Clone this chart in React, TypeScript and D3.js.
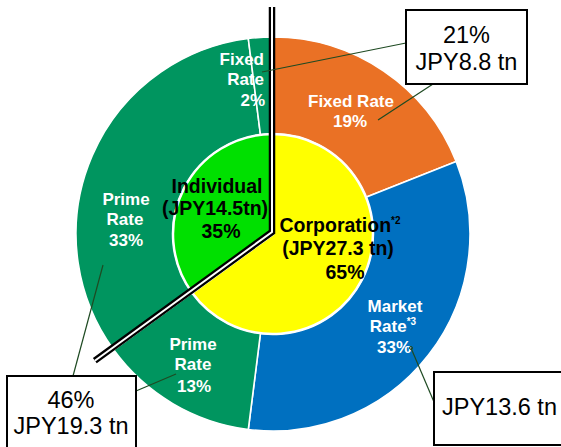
import React from 'react';
import * as d3 from 'd3';

// inner ring: borrower type
const innerNames = ['Corporation', 'Individual'];
const innerAmounts = ['(JPY27.3 tn)', '(JPY14.5tn)'];
const innerShares = [65, 35];

// outer ring: rate type, corporation slices first then individual
const outerNames = ['Fixed Rate', 'Market Rate', 'Prime Rate', 'Prime Rate', 'Fixed Rate'];
const outerShares = [19, 33, 13, 33, 2];

// callout boxes
const calloutLines = [['21%', 'JPY8.8 tn'], ['JPY13.6 tn'], ['46%', 'JPY19.3 tn']];

const W = 561;
const H = 447;
const cx = 273;
const cy = 234;
const rInner = 100;
const rOuter = 197;

const innerColors = ['#FFFF00', '#00E000'];
const outerColors = ['#EA7125', '#0070C0', '#00955F', '#00955F', '#00955F'];
const lineColor = '#1E4A22';
const font = '"Liberation Sans", Arial, sans-serif';

const App = () => {
  const pie = d3.pie<number>().sort(null).value(d => d);
  const innerArcs = pie(innerShares);
  const outerArcs = pie(outerShares);

  const innerArc = d3.arc<d3.PieArcDatum<number>>().innerRadius(0).outerRadius(rInner);
  const outerArc = d3.arc<d3.PieArcDatum<number>>().innerRadius(rInner).outerRadius(rOuter);

  // double divider follows the corporation / individual boundary
  const cut = innerArcs[0].endAngle;
  const cutLen = 219;
  const lx = cx - 1;
  const divider = d3.line()([
    [lx, 7],
    [lx, cy - 2],
    [lx + cutLen * Math.sin(cut), cy - 2 - cutLen * Math.cos(cut)],
  ]);

  const white = { fill: '#fff', fontWeight: 700, fontSize: 17, fontFamily: font };
  const black = { fill: '#000', fontWeight: 700, fontSize: 19.5, fontFamily: font };
  const boxText = { fill: '#000', fontSize: 23.5, fontFamily: font };

  return (
    <svg width={W} height={H} style={{ position: 'absolute', left: 0, top: 0 }}>
      <rect width={W} height={H} fill="#fff" />
      <g transform={`translate(${cx},${cy})`}>
        {outerArcs.map((a, i) => (
          <path key={'o' + i} d={outerArc(a) || ''} fill={outerColors[i]} stroke="#fff" strokeWidth={1.6} />
        ))}
        {innerArcs.map((a, i) => (
          <path key={'i' + i} d={innerArc(a) || ''} fill={innerColors[i]} stroke="#fff" strokeWidth={2.5} />
        ))}
      </g>

      {/* outer slice labels */}
      <text {...white} textAnchor="middle">
        <tspan x={351} y={107}>{outerNames[0]}</tspan>
        <tspan x={350} y={127}>{outerShares[0]}%</tspan>
      </text>
      <text {...white} textAnchor="middle">
        <tspan x={395} y={312}>Market</tspan>
        <tspan x={393} y={332}>Rate<tspan fontSize={10} dy={-7}>*3</tspan></tspan>
        <tspan x={394} y={353}>{outerShares[1]}%</tspan>
      </text>
      <text {...white} textAnchor="middle">
        <tspan x={193} y={350}>Prime</tspan>
        <tspan x={193} y={370}>Rate</tspan>
        <tspan x={194} y={392}>{outerShares[2]}%</tspan>
      </text>
      <text {...white} textAnchor="middle">
        <tspan x={126} y={205}>Prime</tspan>
        <tspan x={125} y={225}>Rate</tspan>
        <tspan x={126} y={246}>{outerShares[3]}%</tspan>
      </text>
      <text {...white} textAnchor="end">
        <tspan x={264} y={65}>Fixed</tspan>
        <tspan x={264} y={85}>Rate</tspan>
        <tspan x={265} y={106}>{outerShares[4]}%</tspan>
      </text>

      {/* inner labels */}
      <text {...black} textAnchor="middle">
        <tspan x={340} y={232}>{innerNames[0]}</tspan>
        <tspan fontSize={10} dy={-8}>*2</tspan>
        <tspan x={338} y={255}>{innerAmounts[0]}</tspan>
        <tspan x={345} y={279}>{innerShares[0]}%</tspan>
      </text>
      <text {...black} textAnchor="middle">
        <tspan x={217} y={193}>{innerNames[1]}</tspan>
        <tspan x={215} y={215}>{innerAmounts[1]}</tspan>
        <tspan x={221} y={238}>{innerShares[1]}%</tspan>
      </text>

      {/* divider */}
      <path d={divider || ''} fill="none" stroke="#000" strokeWidth={6.5} strokeLinejoin="miter" />
      <path d={divider || ''} fill="none" stroke="#fff" strokeWidth={2} strokeLinejoin="miter" />

      {/* leader lines */}
      <g stroke={lineColor} strokeWidth={1.2} fill="none">
        <line x1={406} y1={43} x2={262} y2={72} />
        <line x1={433} y1={84} x2={378} y2={120} />
        <line x1={434} y1={402} x2={411} y2={348} />
        <line x1={73} y1={376} x2={103} y2={265} />
        <line x1={136} y1={391} x2={176} y2={374} />
      </g>
      <circle cx={411} cy={348} r={1.5} fill="none" stroke={lineColor} strokeWidth={1} />

      {/* callout boxes */}
      <rect x={406} y={10} width={121} height={74} fill="#fff" stroke="#000" strokeWidth={2} />
      <text {...boxText} textAnchor="middle">
        <tspan x={466.5} y={43}>{calloutLines[0][0]}</tspan>
        <tspan x={466.5} y={70}>{calloutLines[0][1]}</tspan>
      </text>
      <rect x={434} y={372} width={140} height={73} fill="#fff" stroke="#000" strokeWidth={2} />
      <text {...boxText} x={442} y={415}>{calloutLines[1][0]}</text>
      <rect x={7} y={376} width={129} height={80} fill="#fff" stroke="#000" strokeWidth={2} />
      <text {...boxText} textAnchor="middle">
        <tspan x={71} y={408}>{calloutLines[2][0]}</tspan>
        <tspan x={71} y={434}>{calloutLines[2][1]}</tspan>
      </text>
    </svg>
  );
};

export default App;
